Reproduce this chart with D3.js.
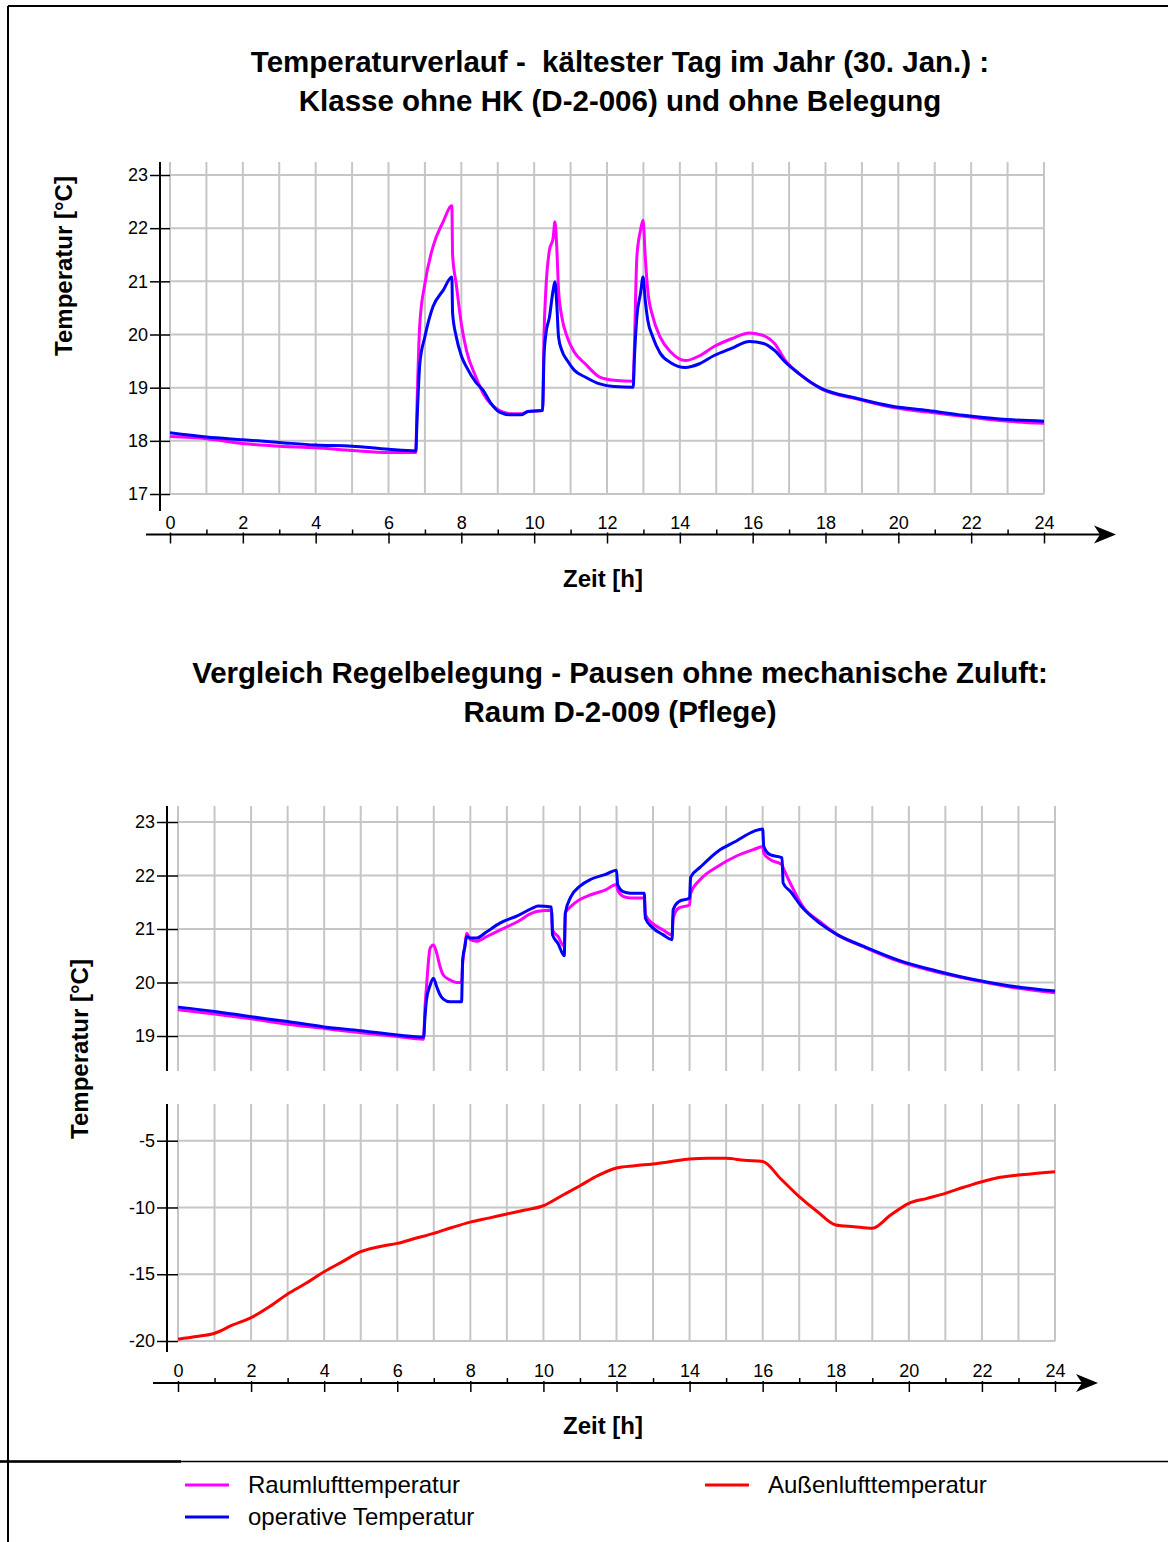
<!DOCTYPE html>
<html>
<head>
<meta charset="utf-8">
<script src="https://cdn.jsdelivr.net/npm/d3@7"></script>
<style>
  body { margin: 0; background: #fff; }
  svg { display: block; font-family: "Liberation Sans", Arial, Helvetica, sans-serif; }
  .title { white-space: pre; }
</style>
</head>
<body>
<svg id="chart" width="1168" height="1542"></svg>
<script>
// ---- data ----
// top chart: 30. Jan, class room without heating
const top_hours = [0, 1, 2, 3, 4, 5, 6, 6.75, 6.78, 6.86, 7.0, 7.22, 7.5, 7.74, 7.76, 7.86, 8.0, 8.14, 8.4, 8.6, 8.8,
    9.05, 9.34, 9.64, 9.83, 10.23, 10.27, 10.32, 10.42, 10.52, 10.57, 10.62, 10.67, 10.76, 10.91, 11.1, 11.4, 11.8,
    12.19, 12.72, 12.75, 12.82, 12.92, 12.99, 13.05, 13.12, 13.26, 13.46, 13.75, 14.15, 14.54, 14.93, 15.42, 15.91,
    16.3, 16.6, 16.9, 17.28, 17.87, 18.85, 19.83, 20.81, 21.79, 22.77, 24];
const top_raumluft = [18.08, 18.04, 17.95, 17.90, 17.87, 17.82, 17.78, 17.78, 18.6, 20.2, 20.96, 21.65, 22.12, 22.42, 21.5,
    20.95, 20.2, 19.7, 19.2, 18.89, 18.7, 18.57, 18.51, 18.51, 18.55, 18.57, 20.0, 20.83, 21.59, 21.81, 22.12, 21.65,
    20.83, 20.33, 19.95, 19.67, 19.45, 19.2, 19.14, 19.12, 19.7, 21.46, 21.96, 22.15, 21.46, 20.83, 20.33, 19.95, 19.67,
    19.51, 19.6, 19.77, 19.92, 20.03, 19.98, 19.83, 19.51, 19.26, 18.98, 18.79, 18.63, 18.54, 18.46, 18.38, 18.33];
const top_operativ = [18.15, 18.07, 18.02, 17.97, 17.92, 17.90, 17.84, 17.81, 18.32, 19.45, 19.96, 20.52, 20.83, 21.08, 20.4,
    19.96, 19.6, 19.39, 19.1, 18.95, 18.72, 18.54, 18.49, 18.49, 18.55, 18.57, 19.58, 20.0, 20.33, 20.83, 20.99, 20.58,
    19.95, 19.7, 19.51, 19.33, 19.2, 19.07, 19.02, 19.01, 19.51, 20.33, 20.77, 21.08, 20.64, 20.27, 19.95, 19.65, 19.47,
    19.38, 19.45, 19.6, 19.74, 19.87, 19.83, 19.7, 19.48, 19.26, 18.99, 18.8, 18.65, 18.57, 18.48, 18.41, 18.37];

// bottom chart: room D-2-009
const bot_hours = [0, 1, 2, 3, 4, 5, 6, 6.72, 6.76, 6.8, 6.9, 6.99, 7.08, 7.17, 7.26, 7.44, 7.63, 7.76, 7.79, 7.85, 7.9,
    8.0, 8.17, 8.45, 8.81, 9.3, 9.7, 9.85, 10.22, 10.25, 10.4, 10.57, 10.6, 10.75, 11.0, 11.3, 11.7, 12.0, 12.03, 12.18,
    12.38, 12.76, 12.79, 12.98, 13.28, 13.52, 13.55, 13.7, 14.0, 14.03, 14.3, 14.77, 15.27, 15.77, 16.0, 16.03, 16.2,
    16.53, 16.56, 16.76, 17.1, 17.56, 18.05, 18.75, 19.75, 20.74, 21.74, 22.73, 24];
const bot_raumluft = [19.49, 19.41, 19.32, 19.22, 19.14, 19.06, 18.99, 18.94, 19.55, 19.92, 20.64, 20.7, 20.55, 20.3, 20.14,
    20.05, 20.0, 20.0, 20.36, 20.67, 20.92, 20.8, 20.77, 20.86, 20.98, 21.14, 21.3, 21.33, 21.35, 20.98, 20.86, 20.67,
    21.3, 21.42, 21.55, 21.64, 21.73, 21.83, 21.73, 21.61, 21.58, 21.58, 21.27, 21.11, 20.98, 20.89, 21.2, 21.39, 21.45,
    21.67, 21.93, 22.17, 22.36, 22.49, 22.54, 22.42, 22.3, 22.2, 22.15, 21.85, 21.42, 21.14, 20.89, 20.67, 20.39, 20.2,
    20.05, 19.92, 19.81];
const bot_operativ = [19.54, 19.46, 19.36, 19.27, 19.17, 19.10, 19.02, 18.98, 19.36, 19.67, 19.95, 20.08, 19.92, 19.77, 19.69,
    19.64, 19.64, 19.64, 20.42, 20.67, 20.86, 20.83, 20.83, 20.95, 21.11, 21.25, 21.39, 21.43, 21.41, 20.89, 20.73, 20.5,
    21.3, 21.6, 21.8, 21.93, 22.02, 22.1, 21.83, 21.7, 21.67, 21.67, 21.2, 21.03, 20.89, 20.8, 21.36, 21.51, 21.58, 21.97,
    22.16, 22.45, 22.64, 22.83, 22.87, 22.54, 22.39, 22.33, 21.86, 21.7, 21.39, 21.11, 20.89, 20.68, 20.41, 20.22, 20.06,
    19.94, 19.84];

const aussen_hours = d3.range(0, 24.01, 0.5);
const aussen_temp = [-19.87, -19.67, -19.42, -18.8, -18.25, -17.43, -16.48, -15.68, -14.81, -14.06, -13.31, -12.94,
    -12.69, -12.31, -11.94, -11.5, -11.1, -10.8, -10.49, -10.19, -9.87, -9.12, -8.37, -7.6, -7.04, -6.87, -6.74, -6.56,
    -6.37, -6.32, -6.32, -6.47, -6.56, -7.87, -9.19, -10.32, -11.31, -11.44, -11.56, -10.57, -9.69, -9.32, -8.94, -8.49,
    -8.07, -7.74, -7.57, -7.44, -7.32];

const hour_ticks = d3.range(0, 25);
const top_temp_ticks = [17, 18, 19, 20, 21, 22, 23];
const bot_temp_ticks = [19, 20, 21, 22, 23];
const aussen_ticks = [-20, -15, -10, -5];

const title_top = ["Temperaturverlauf -  kältester Tag im Jahr (30. Jan.) :", "Klasse ohne HK (D-2-006) und ohne Belegung"];
const title_bot = ["Vergleich Regelbelegung - Pausen ohne mechanische Zuluft:", "Raum D-2-009 (Pflege)"];
const legend_items = [
    {label: "Raumlufttemperatur", color: "#ff00ff"},
    {label: "operative Temperatur", color: "#0000ff"},
    {label: "Außenlufttemperatur", color: "#ff0000"}
];

const svg = d3.select("#chart");
const grid_color = "#c6c6c6";

// frame
svg.append("line").attr("x1", 8).attr("y1", 6).attr("x2", 1168).attr("y2", 6).attr("stroke", "#000").attr("stroke-width", 2);
svg.append("line").attr("x1", 8).attr("y1", 6).attr("x2", 8).attr("y2", 1542).attr("stroke", "#000").attr("stroke-width", 2);
svg.append("line").attr("x1", 0).attr("y1", 1461.5).attr("x2", 1168).attr("y2", 1461.5).attr("stroke", "#000").attr("stroke-width", 1.5);
svg.append("line").attr("x1", 0).attr("y1", 1461.5).attr("x2", 181).attr("y2", 1461.5).attr("stroke", "#000").attr("stroke-width", 2.5);

function draw_title(lines, y0) {
    lines.forEach((t, i) => {
        svg.append("text")
            .attr("class", "title")
            .attr("x", 620).attr("y", y0 + i * 39)
            .attr("text-anchor", "middle")
            .attr("font-size", "29.5px").attr("font-weight", "bold")
            .text(t);
    });
}

// grid + y axis for one panel
function draw_panel(x, y, ticks, axis_x, y_top, y_bottom, grid_bottom) {
    const g = svg.append("g");
    g.selectAll("line.hgrid").data(ticks).join("line")
        .attr("x1", x(0)).attr("x2", x(24))
        .attr("y1", d => y(d)).attr("y2", d => y(d))
        .attr("stroke", grid_color).attr("stroke-width", 2);
    g.selectAll("line.vgrid").data(hour_ticks).join("line")
        .attr("x1", d => x(d)).attr("x2", d => x(d))
        .attr("y1", y_top).attr("y2", grid_bottom)
        .attr("stroke", grid_color).attr("stroke-width", 2);

    const axis = svg.append("g")
        .attr("transform", "translate(" + axis_x + ",0)")
        .call(d3.axisLeft(y).tickValues(ticks).tickFormat(d => String(d)).tickSize(10).tickPadding(2));
    axis.select(".domain").remove();
    axis.attr("font-family", null);
    axis.selectAll(".tick line").attr("x1", x(0) - axis_x).attr("stroke-width", 1.5);
    axis.selectAll(".tick text").attr("font-size", "18px").attr("fill", "#000");
    svg.append("line")
        .attr("x1", axis_x).attr("x2", axis_x).attr("y1", y_top).attr("y2", y_bottom)
        .attr("stroke", "#000").attr("stroke-width", 2);
}

function draw_time_axis(x, y0, x_start, tip) {
    const axis = svg.append("g")
        .attr("transform", "translate(0," + y0 + ")")
        .call(d3.axisBottom(x).tickValues(hour_ticks).tickFormat(d => d % 2 === 0 ? String(d) : ""));
    axis.select(".domain").remove();
    axis.attr("font-family", null);
    axis.selectAll(".tick line")
        .attr("y1", d => d % 2 === 0 ? -2 : -5)
        .attr("y2", d => d % 2 === 0 ? 9 : 0)
        .attr("stroke-width", 1.5);
    axis.selectAll(".tick text")
        .attr("y", -6).attr("dy", null)
        .attr("font-size", "18px").attr("fill", "#000");

    svg.append("line")
        .attr("x1", x_start).attr("x2", tip - 12).attr("y1", y0).attr("y2", y0)
        .attr("stroke", "#000").attr("stroke-width", 2);
    svg.append("path")
        .attr("d", "M" + tip + "," + y0 + "L" + (tip - 22) + "," + (y0 - 9) + "L" + (tip - 16) + "," + y0 +
            "L" + (tip - 22) + "," + (y0 + 9) + "Z")
        .attr("fill", "#000");
}

function axis_title(text, x, y, rotate) {
    svg.append("text")
        .attr("transform", "translate(" + x + "," + y + ")" + (rotate ? " rotate(-90)" : ""))
        .attr("text-anchor", "middle")
        .attr("font-size", "24px").attr("font-weight", "bold")
        .text(text);
}

function draw_series(x, y, hours, values, color) {
    const line = d3.line().curve(d3.curveMonotoneX).x(d => x(d[0])).y(d => y(d[1]));
    svg.append("path")
        .datum(d3.zip(hours, values))
        .attr("d", line)
        .attr("fill", "none")
        .attr("stroke", color)
        .attr("stroke-width", 3)
        .attr("stroke-linejoin", "round");
}

// ---- top chart ----
draw_title(title_top, 72);
const x_top = d3.scaleLinear().domain([0, 24]).range([170, 1044]);
const y_top = d3.scaleLinear().domain([17, 23]).range([494, 175]);
draw_panel(x_top, y_top, top_temp_ticks, 160, 162, 511, 494);
draw_time_axis(x_top, 534.5, 146, 1116);
draw_series(x_top, y_top, top_hours, top_raumluft, "#ff00ff");
draw_series(x_top, y_top, top_hours, top_operativ, "#0000ff");
axis_title("Temperatur [°C]", 72, 266, true);
axis_title("Zeit [h]", 603, 587, false);

// ---- bottom chart ----
draw_title(title_bot, 683);
const x_bot = d3.scaleLinear().domain([0, 24]).range([178, 1055]);
const y_bot = d3.scaleLinear().domain([19, 23]).range([1036, 822]);
const y_aus = d3.scaleLinear().domain([-20, -5]).range([1341, 1140.7]);
draw_panel(x_bot, y_bot, bot_temp_ticks, 167, 806, 1071, 1071);
draw_panel(x_bot, y_aus, aussen_ticks, 167, 1104, 1352, 1341);
draw_time_axis(x_bot, 1383, 153, 1098);
draw_series(x_bot, y_bot, bot_hours, bot_raumluft, "#ff00ff");
draw_series(x_bot, y_bot, bot_hours, bot_operativ, "#0000ff");
draw_series(x_bot, y_aus, aussen_hours, aussen_temp, "#ff0000");
axis_title("Temperatur [°C]", 88, 1049, true);
axis_title("Zeit [h]", 603, 1434, false);

// ---- legend ----
const legend_pos = [[185, 1485], [185, 1517], [705, 1485]];
legend_items.forEach((d, i) => {
    const p = legend_pos[i];
    svg.append("line")
        .attr("x1", p[0]).attr("x2", p[0] + 44).attr("y1", p[1]).attr("y2", p[1])
        .attr("stroke", d.color).attr("stroke-width", 3);
    svg.append("text")
        .attr("x", p[0] + 63).attr("y", p[1] + 8)
        .attr("font-size", "24px")
        .text(d.label);
});
</script>
</body>
</html>
